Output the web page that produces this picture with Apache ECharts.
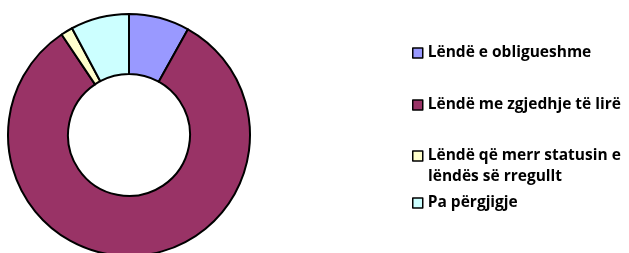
<!DOCTYPE html>
<html>
<head>
<meta charset="utf-8">
<script src="https://cdn.jsdelivr.net/npm/echarts@6/dist/echarts.min.js"></script>
<style>
  html, body { margin: 0; padding: 0; background: #fff; }
  #chart { width: 629px; height: 253px; }
</style>
</head>
<body>
<div id="chart"></div>
<script>
const categories = [
  'Lëndë e obligueshme',
  'Lëndë me zgjedhje të lirë',
  'Lëndë që merr statusin e lëndës së rregullt',
  'Pa përgjigje',
]
const values = [8.1, 82.5, 1.6, 7.8]
const colors = ['#9999FF', '#993366', '#FFFFCC', '#CCFFFF']
const legendLabels = [
  'Lëndë e obligueshme',
  'Lëndë me zgjedhje të lirë',
  'Lëndë që merr statusin e',
  'Pa përgjigje',
]
const wrapLine = 'lëndës së rregullt'
const legendTops = [40, 92, 143, 190]

const font = {
  fontFamily: 'Open Sans',
  fontWeight: 'bold',
  fontSize: 15.5,
  color: '#000',
}

const chart = echarts.init(document.getElementById('chart'))

const legends = categories.map((name, i) => ({
  data: [name],
  orient: 'vertical',
  left: 407,
  top: legendTops[i],
  icon: 'rect',
  itemWidth: 10,
  itemHeight: 10,
  itemGap: 0,
  selectedMode: false,
  itemStyle: { borderColor: '#000', borderWidth: 1.5 },
  formatter: () => legendLabels[i],
  textStyle: { ...font, lineHeight: 16, padding: [0, 0, 0, 0] },
}))

chart.setOption({
  animation: false,
  backgroundColor: '#fff',
  legend: legends,
  graphic: [
    {
      type: 'text',
      left: 428,
      top: 169,
      style: { text: wrapLine, ...font, fill: '#000' },
    },
  ],
  series: [
    {
      type: 'pie',
      center: [129, 135],
      radius: [61, 121],
      startAngle: 90,
      clockwise: true,
      label: { show: false },
      labelLine: { show: false },
      itemStyle: { borderColor: '#000', borderWidth: 2 },
      emphasis: { disabled: true },
      data: categories.map((name, i) => ({
        name,
        value: values[i],
        itemStyle: { color: colors[i] },
      })),
    },
  ],
})
</script>
</body>
</html>
